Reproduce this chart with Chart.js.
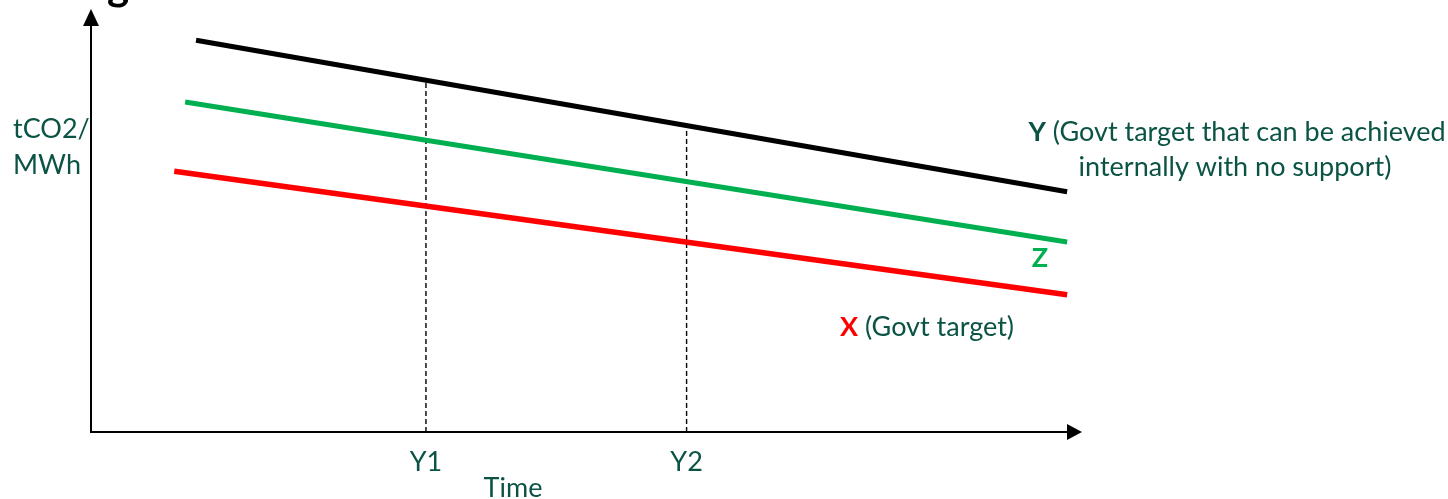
<!DOCTYPE html>
<html>
<head>
<meta charset="utf-8">
<title>tCO2/MWh targets over time</title>
<script src="https://cdn.jsdelivr.net/npm/chart.js@4/dist/chart.umd.min.js"></script>
<style>
  html, body { margin: 0; padding: 0; background: #ffffff; }
  #wrap { width: 1448px; height: 499px; }
</style>
</head>
<body>
<div id="wrap"><canvas id="c" width="1448" height="499"></canvas></div>
<script>
// Schematic emission-intensity paths (arbitrary units, axes run 0..100)
const yLineTime  = [10.6, 98.5];   // Y: target achievable internally
const yLineValue = [95.1, 58.3];
const zLineTime  = [9.5, 98.5];    // Z
const zLineValue = [80.1, 46.1];
const xLineTime  = [8.4, 98.5];    // X: government target
const xLineValue = [63.3, 33.3];

// Reference years marked on the time axis
const markerTimes  = [33.8, 60.1];
const markerLabels = ['Y1', 'Y2'];
const markerTops   = [85.4, 74.3];

const axisTitleY = ['tCO2/', 'MWh'];
const axisTitleX = 'Time';

const TEXT = '#0B5345';
const FONT = 'Lato, "Open Sans", sans-serif';
const SIZE = 27;

const pts = (xs, ys) => xs.map((x, i) => ({ x, y: ys[i] }));

const datasets = [
  { data: pts(yLineTime, yLineValue), borderColor: '#000000', borderWidth: 5 },
  { data: pts(zLineTime, zLineValue), borderColor: '#00B050', borderWidth: 5 },
  { data: pts(xLineTime, xLineValue), borderColor: '#FF0000', borderWidth: 5.5 }
];
markerTimes.forEach((t, i) => {
  datasets.push({
    data: [{ x: t, y: 0 }, { x: t, y: markerTops[i] }],
    borderColor: '#000000', borderWidth: 1.4, borderDash: [5, 3]
  });
});
datasets.forEach(d => { d.showLine = true; d.pointRadius = 0; d.fill = false; });

const annotations = {
  id: 'annotations',
  afterDraw(chart) {
    const { ctx, chartArea: a, scales } = chart;
    const xs = scales.x, ys = scales.y;
    const x0 = xs.getPixelForValue(0), y0 = ys.getPixelForValue(0);
    ctx.save();

    // heading above the frame (only its lowest part falls inside the page)
    ctx.fillStyle = '#000000';
    ctx.font = 'bold 42px ' + FONT;
    ctx.textBaseline = 'alphabetic';
    ctx.textAlign = 'left';
    const head = 'Strategies';
    const pre = ctx.measureText('Strate').width;
    ctx.fillText(head, 107 - pre, 0);

    // axes with arrow heads
    ctx.strokeStyle = '#000000';
    ctx.fillStyle = '#000000';
    ctx.lineWidth = 2;
    ctx.beginPath();
    ctx.moveTo(x0, y0 + 1);
    ctx.lineTo(x0, a.top + 6);
    ctx.moveTo(x0 - 1, y0);
    ctx.lineTo(a.right - 14, y0);
    ctx.stroke();
    ctx.beginPath();
    ctx.moveTo(x0, a.top - 11);
    ctx.lineTo(x0 - 8, a.top + 6);
    ctx.lineTo(x0 + 8, a.top + 6);
    ctx.closePath();
    ctx.fill();
    ctx.beginPath();
    ctx.moveTo(a.right, y0);
    ctx.lineTo(a.right - 15, y0 - 8);
    ctx.lineTo(a.right - 15, y0 + 8);
    ctx.closePath();
    ctx.fill();

    ctx.font = SIZE + 'px ' + FONT;
    ctx.fillStyle = TEXT;

    // y-axis title
    ctx.textAlign = 'left';
    ctx.fillText(axisTitleY[0], 13, 138);
    ctx.fillText(axisTitleY[1], 13, 174);

    // year marks and x-axis title
    ctx.textAlign = 'center';
    markerTimes.forEach((t, i) => {
      ctx.fillText(markerLabels[i], xs.getPixelForValue(t), 471);
    });
    ctx.fillText(axisTitleX, 513, 497);

    // series labels
    const label = (parts, cx, y) => {
      let w = 0;
      parts.forEach(p => { ctx.font = (p.bold ? 'bold ' : '') + SIZE + 'px ' + FONT; w += ctx.measureText(p.t).width; });
      let x = cx - w / 2;
      ctx.textAlign = 'left';
      parts.forEach(p => {
        ctx.font = (p.bold ? 'bold ' : '') + SIZE + 'px ' + FONT;
        ctx.fillStyle = p.c || TEXT;
        ctx.fillText(p.t, x, y);
        x += ctx.measureText(p.t).width;
      });
    };
    label([{ t: 'Y', bold: true }, { t: ' (Govt target that can be achieved' }], 1237, 141);
    label([{ t: 'internally with no support)' }], 1235, 176);
    label([{ t: 'Z', bold: true, c: '#00B050' }], 1040, 267);
    label([{ t: 'X', bold: true, c: '#FF0000' }, { t: ' (Govt target)' }], 927, 336);

    ctx.restore();
  }
};

new Chart(document.getElementById('c'), {
  type: 'scatter',
  data: { datasets },
  options: {
    responsive: false,
    animation: false,
    layout: { padding: { left: 91, right: 366, top: 20, bottom: 67 } },
    plugins: { legend: { display: false }, tooltip: { enabled: false } },
    scales: {
      x: { type: 'linear', min: 0, max: 100, display: false },
      y: { type: 'linear', min: 0, max: 100, display: false }
    }
  },
  plugins: [annotations]
});
</script>
</body>
</html>
